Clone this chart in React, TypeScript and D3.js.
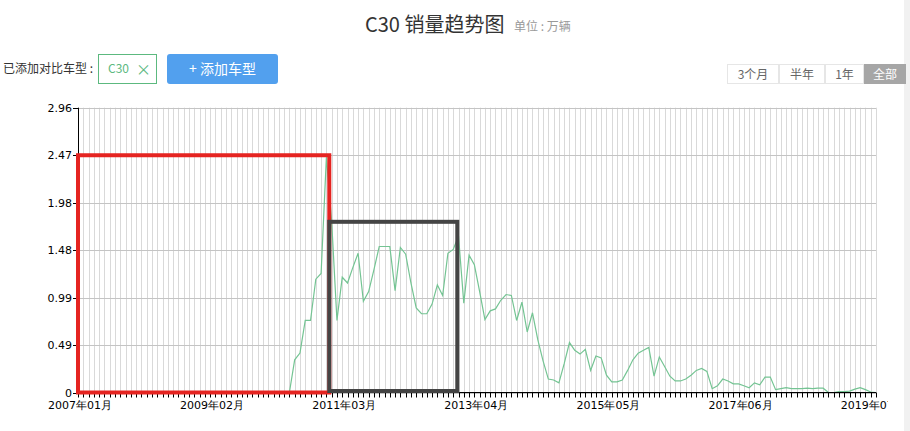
import * as d3 from "d3";

// monthly sales, 2007-01 .. 2019-08 (万辆)
const startYear = 2007;
const sales: number[] = [
  0, 0, 0, 0, 0, 0, 0, 0, 0, 0, 0, 0,
  0, 0, 0, 0, 0, 0, 0, 0, 0, 0, 0, 0,
  0, 0, 0, 0, 0, 0, 0, 0, 0, 0, 0, 0,
  0, 0, 0, 0, 0, 0.34, 0.41, 0.75, 0.75, 1.18, 1.24, 2.45,
  1.78, 0.75, 1.2, 1.14, 1.3, 1.45, 0.95, 1.05, 1.28, 1.52, 1.52, 1.52,
  1.06, 1.51, 1.44, 1.14, 0.88, 0.82, 0.82, 0.92, 1.12, 1.01, 1.45, 1.49,
  1.63, 0.93, 1.43, 1.33, 1.05, 0.76, 0.85, 0.87, 0.96, 1.02, 1.01, 0.75,
  0.94, 0.63, 0.83, 0.55, 0.33, 0.14, 0.13, 0.1, 0.3, 0.52, 0.44, 0.4,
  0.45, 0.23, 0.38, 0.36, 0.18, 0.11, 0.11, 0.13, 0.23, 0.34, 0.41, 0.44,
  0.47, 0.17, 0.37, 0.27, 0.17, 0.12, 0.12, 0.14, 0.18, 0.23, 0.25, 0.22,
  0.04, 0.07, 0.14, 0.12, 0.09, 0.09, 0.07, 0.05, 0.1, 0.08, 0.16, 0.16,
  0.03, 0.04, 0.05, 0.04, 0.04, 0.04, 0.045, 0.04, 0.045, 0.045, 0, 0,
  0.01, 0.01, 0.015, 0.035, 0.05, 0.03, 0.005, 0,
];

const yMax = 2.965;
const yTickLabels = ["0", "0.49", "0.99", "1.48", "1.98", "2.47", "2.96"];
const xTickMonths = [0, 25, 50, 75, 100, 125, 150];
const rangeButtons = ["3个月", "半年", "1年", "全部"];

// hand-drawn highlight boxes, in data units [month0, month1, value]
const redBox = [0, 47.55, 2.47];
const darkBox = [47.55, 71.77, 1.777];

const monthLabel = (m: number) => {
  const y = startYear + Math.floor(m / 12);
  const mo = (m % 12) + 1;
  return `${y}年${String(mo).padStart(2, "0")}月`;
};

const App = () => {
  const W = 910;
  const H = 431;
  const left = 78;
  const right = 876;
  const top = 107.7;
  const bottom = 392.5;

  const x = d3.scaleLinear().domain([0, sales.length - 1]).range([left, right]);
  const y = d3.scaleLinear().domain([0, yMax]).range([bottom, top]);

  const line = d3
    .line<number>()
    .x((_, i) => x(i))
    .y((d) => y(d));

  const months = d3.range(sales.length);
  const yTicks = yTickLabels.map((t, i) => ({ t, v: (yMax / 6) * i }));

  const cjk = "'Noto Sans CJK SC', 'Microsoft YaHei', sans-serif";
  const axisFont = "'DejaVu Sans', Verdana, sans-serif";

  const btnX = [727, 779, 825, 864, 906];

  return (
    <svg
      width={W}
      height={H}
      style={{ position: "absolute", left: 0, top: 0, background: "#fff" }}
    >
      <rect x={0} y={0} width={W} height={H} fill="#fff" />
      {/* scrollbar strip */}
      <rect x={904} y={0} width={6} height={H} fill="#f1f1f1" />

      {/* title */}
      <text x={365} y={32} fontFamily={cjk} fontSize={20} fill="#333">
        C30 销量趋势图
      </text>
      <text x={514} y={31} fontFamily={cjk} fontSize={12} fill="#999">
        单位 : 万辆
      </text>

      {/* compare controls */}
      <text x={3} y={73} fontFamily={cjk} fontSize={12} fill="#333">
        已添加对比车型 :
      </text>
      <rect x={98.5} y={54.5} width={58} height={29} fill="#fff" stroke="#5cb97f" />
      <text x={108} y={73} fontFamily={cjk} fontSize={12} fill="#5cb97f">
        C30
      </text>
      <text x={136} y={75} fontFamily={cjk} fontSize={15} fill="#5cb97f">
        ×
      </text>
      <rect x={167} y={54} width={111} height={30} rx={3} fill="#52a0ee" />
      <text
        x={222.5}
        y={74}
        textAnchor="middle"
        fontFamily={cjk}
        fontSize={14}
        fill="#fff"
      >
        + 添加车型
      </text>

      {/* range buttons */}
      {rangeButtons.map((b, i) => {
        const last = i === rangeButtons.length - 1;
        return (
          <g key={b}>
            <rect
              x={btnX[i] + 0.5}
              y={64.5}
              width={btnX[i + 1] - btnX[i] - 1}
              height={19}
              fill={last ? "#a6a6a6" : "#fff"}
              stroke={last ? "#a6a6a6" : "#e6e6e6"}
            />
            <text
              x={(btnX[i] + btnX[i + 1]) / 2}
              y={78.5}
              textAnchor="middle"
              fontFamily={cjk}
              fontSize={12}
              fill={last ? "#fff" : "#666"}
            >
              {b}
            </text>
          </g>
        );
      })}

      <svg x={0} y={0} width={888} height={H} overflow="hidden">
        {/* vertical month grid */}
        {months.map((m) => (
          <line
            key={`vg${m}`}
            x1={Math.round(x(m)) + 0.5}
            x2={Math.round(x(m)) + 0.5}
            y1={top}
            y2={bottom}
            stroke="#d9d9d9"
          />
        ))}
        {/* horizontal grid */}
        {yTicks.map((t) => (
          <line
            key={`hg${t.t}`}
            x1={left}
            x2={right}
            y1={Math.round(y(t.v)) + 0.5}
            y2={Math.round(y(t.v)) + 0.5}
            stroke="#c4c4c4"
          />
        ))}

        {/* series */}
        <path d={line(sales) ?? ""} fill="none" stroke="#74c493" strokeWidth={1.2} />

        {/* axes */}
        <line x1={left + 0.5} x2={left + 0.5} y1={top} y2={bottom} stroke="#000" />
        <line x1={left} x2={right} y1={bottom} y2={bottom} stroke="#000" />
        {months.map((m) => (
          <line
            key={`xt${m}`}
            x1={Math.round(x(m)) + 0.5}
            x2={Math.round(x(m)) + 0.5}
            y1={bottom}
            y2={bottom + 5}
            stroke="#000"
          />
        ))}
        {yTicks.map((t) => (
          <g key={`yt${t.t}`}>
            <line
              x1={left - 5}
              x2={left}
              y1={Math.round(y(t.v)) + 0.5}
              y2={Math.round(y(t.v)) + 0.5}
              stroke="#000"
            />
            <text
              x={left - 6}
              y={y(t.v) + 4}
              textAnchor="end"
              fontFamily={axisFont}
              fontSize={11}
              fill="#000"
            >
              {t.t}
            </text>
          </g>
        ))}
        {xTickMonths.map((m) => (
          <text
            key={`xl${m}`}
            x={x(m) + 2}
            y={409}
            textAnchor="middle"
            fontFamily={axisFont}
            fontSize={11}
            fill="#000"
          >
            {monthLabel(m)}
          </text>
        ))}

        {/* highlight boxes */}
        <rect
          x={x(redBox[0])}
          y={y(redBox[2])}
          width={x(redBox[1]) - x(redBox[0])}
          height={y(0) - y(redBox[2])}
          fill="none"
          stroke="#e52421"
          strokeWidth={4}
        />
        <rect
          x={x(darkBox[0])}
          y={y(darkBox[2])}
          width={x(darkBox[1]) - x(darkBox[0])}
          height={y(0) - y(darkBox[2]) - 1.5}
          fill="none"
          stroke="#444"
          strokeWidth={4}
        />
      </svg>
    </svg>
  );
};

export default App;
